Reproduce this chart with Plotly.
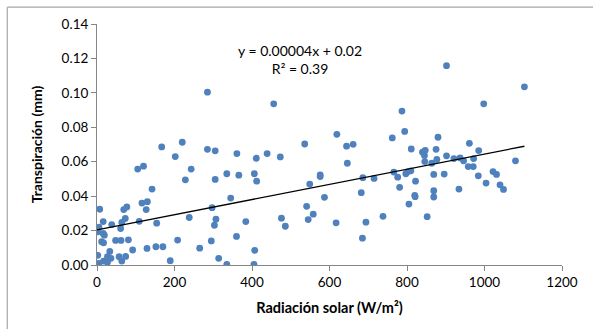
import numpy as np
import plotly.graph_objects as go

radiacion = [285,167,220,202,285,305,361,411,439,105,120,243,228,305,335,366,406,412,142,345,
             7,69,77,116,130,127,297,16,73,38,64,61,109,154,238,307,303,384,5,2,16,19,12,17,48,62,81,
             208,295,360,33,92,129,152,170,265,407,2,27,36,57,74,64,5,17,27,189,314,335,405,
             456,473,536,619,644,661,646,576,576,549,587,686,715,682,762,787,794,811,840,847,845,846,
             875,880,864,877,766,776,781,797,803,810,822,820,821,805,869,869,869,852,541,558,545,476,
             486,617,694,738,685,
             902,1103,998,961,985,902,921,937,946,972,958,971,896,934,984,1004,1022,1031,1040,1049,1080]
transpiracion = [0.1004,0.0686,0.0713,0.063,0.0672,0.0663,0.0647,0.062,0.0647,0.0557,0.0574,0.0557,
                 0.0495,0.0497,0.053,0.0522,0.053,0.0487,0.0441,0.0389,
                 0.0324,0.0322,0.0337,0.036,0.0368,0.0322,0.0333,0.0252,0.027,0.0235,0.0247,0.0212,
                 0.0254,0.0243,0.0276,0.0266,0.0231,0.0252,0.022,0.0193,0.0183,0.0173,0.0135,0.0129,
                 0.0143,0.0143,0.0146,0.0145,0.014,0.0166,0.0079,0.0087,0.0096,0.0106,0.0106,0.0098,
                 0.0085,0.0056,0.0048,0.0039,0.0048,0.005,0.0023,0.001,0.0023,0.0016,0.0025,0.0039,
                 0.0004,0.0004,
                 0.0936,0.0628,0.0703,0.0759,0.069,0.0701,0.0591,0.0524,0.0514,0.047,0.0393,0.0507,
                 0.0503,0.042,0.0738,0.0894,0.0776,0.0674,0.0655,0.0666,0.0636,0.0601,0.0672,0.0742,
                 0.0591,0.0613,0.054,0.051,0.0451,0.053,0.0543,0.0547,0.0487,0.0405,0.0397,0.0354,
                 0.0526,0.0432,0.0395,0.0281,0.0341,0.0295,0.0264,0.0272,0.0225,0.0245,0.0249,0.0283,
                 0.0156,
                 0.1158,0.1035,0.0936,0.0707,0.0665,0.0634,0.0618,0.0622,0.0605,0.0618,0.0572,0.0572,
                 0.0528,0.0441,0.0518,0.0476,0.0543,0.0526,0.0466,0.0439,0.0605]

x_ticks = [0, 200, 400, 600, 800, 1000, 1200]
y_ticks = [0.00, 0.02, 0.04, 0.06, 0.08, 0.10, 0.12, 0.14]
eq_text = "y = 0.00004x + 0.02<br>R² = 0.39"

xa = np.array(radiacion, dtype=float)
ya = np.array(transpiracion, dtype=float)
slope, intercept = np.polyfit(xa, ya, 1)
x_line = np.array([0.0, xa.max()])
y_line = slope * x_line + intercept

FONT = "Lato"
AX = "#868686"

fig = go.Figure()
fig.add_trace(go.Scatter(x=radiacion, y=transpiracion, mode="markers",
                         marker=dict(color="#4F81BD", size=6.8), hoverinfo="skip", showlegend=False))
fig.add_trace(go.Scatter(x=x_line, y=y_line, mode="lines",
                         line=dict(color="black", width=1.3), hoverinfo="skip", showlegend=False))

fig.update_layout(
    width=593, height=329,
    margin=dict(l=97, r=31, t=24, b=64),
    paper_bgcolor="white", plot_bgcolor="white",
    font=dict(family=FONT, size=13.5, color="#000000"),
    xaxis=dict(range=[0, 1200], tickvals=x_ticks, ticktext=[str(v) for v in x_ticks],
               showgrid=False, zeroline=False, showline=True, linecolor=AX, linewidth=1,
               ticks="outside", ticklen=5, tickcolor=AX, tickfont=dict(size=13.5),
               title=dict(text="<b>Radiación solar (W/m²)</b>", font=dict(size=14.5), standoff=13)),
    yaxis=dict(range=[0, 0.14], tickvals=y_ticks, ticktext=[f"{v:.2f}" for v in y_ticks],
               showgrid=False, zeroline=False, showline=True, linecolor=AX, linewidth=1,
               ticks="outside", ticklen=5, tickcolor=AX, tickfont=dict(size=13.5),
               title=dict(text="<b>Transpiración (mm)</b>", font=dict(size=14), standoff=15)),
    annotations=[dict(x=0.436, y=0.853, xref="paper", yref="paper", text=eq_text, showarrow=False,
                      font=dict(size=14, family=FONT), align="center", xanchor="center", yanchor="middle")],
    shapes=[
        dict(type="line", xref="paper", yref="paper", x0=-0.193, x1=1.1, y0=1.07, y1=1.07,
             line=dict(color="#A6A6A6", width=1.2)),
        dict(type="line", xref="paper", yref="paper", x0=-0.193, x1=-0.193, y0=1.07, y1=-0.3,
             line=dict(color="#A6A6A6", width=1.2)),
    ],
)

fig.write_html("out.html")
